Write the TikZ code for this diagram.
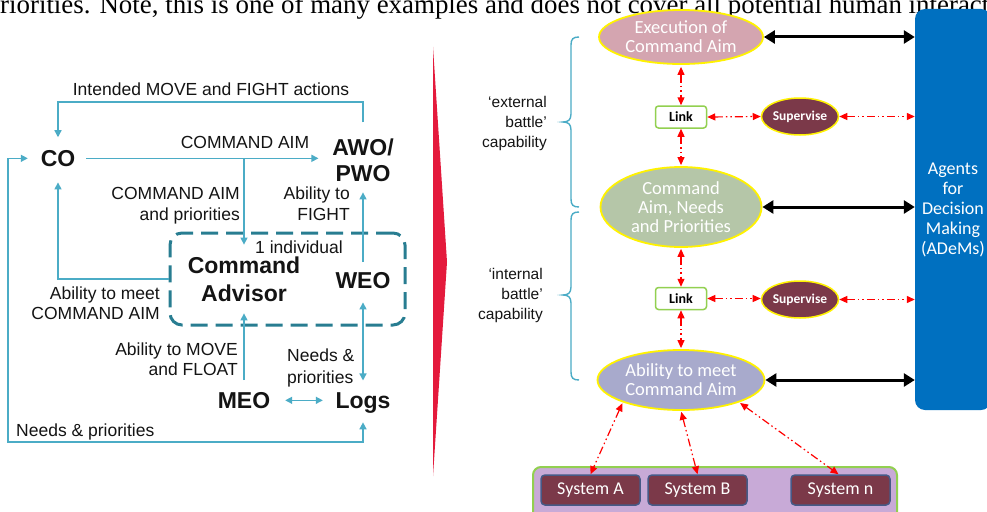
\documentclass[tikz,border=0pt]{standalone}
\usepackage{fontspec}
\setmainfont{Liberation Sans}
\newfontfamily\arialf{Liberation Sans}
\newfontfamily\calf{Carlito}
\newfontfamily\timesf{Liberation Serif}
\usetikzlibrary{arrows.meta,shapes.geometric,calc}

\definecolor{lblue}{RGB}{75,172,198}
\definecolor{dteal}{RGB}{40,125,145}
\definecolor{pinkE}{RGB}{212,165,176}
\definecolor{sageE}{RGB}{181,198,168}
\definecolor{lavE}{RGB}{168,170,204}
\definecolor{maroonS}{RGB}{123,57,73}
\definecolor{lgreen}{RGB}{146,208,80}
\definecolor{adblue}{RGB}{0,112,192}
\definecolor{sysbg}{RGB}{200,170,215}
\definecolor{sysedge}{RGB}{70,90,135}
\definecolor{crimson}{RGB}{228,26,60}
\definecolor{txt}{RGB}{20,20,20}

\begin{document}
\begin{tikzpicture}[x=1pt,y=-1pt,
  lbl/.style={font=\arialf\fontsize{17.5}{21}\selectfont, text=txt, inner sep=0pt},
  rlbl/.style={font=\arialf\fontsize{15.5}{20}\selectfont, text=txt, inner sep=0pt, align=right, anchor=north east},
  bigt/.style={font=\arialf\bfseries\fontsize{23}{26}\selectfont, text=txt, inner sep=0pt},
  arr/.style={draw=lblue, line width=1.4pt, -{Triangle[length=7pt,width=7pt]}},
  arrb/.style={draw=lblue, line width=1.4pt, {Triangle[length=7pt,width=7pt]}-{Triangle[length=7pt,width=7pt]}},
  ell/.style={ellipse, draw=yellow, line width=1.8pt, inner sep=0pt, text=white, align=center,
     font=\calf\fontsize{18.5}{19}\selectfont},
  linkb/.style={draw=lgreen, line width=1.5pt, fill=white, rounded corners=3pt, minimum width=51pt,
     minimum height=22pt, inner sep=0pt, font=\calf\bfseries\fontsize{14}{14}\selectfont},
  supe/.style={ellipse, draw=yellow, line width=1.5pt, fill=maroonS, minimum width=75pt, minimum height=37pt,
     inner sep=0pt, text=white, font=\calf\bfseries\fontsize{13.5}{14}\selectfont},
  sysb/.style={draw=sysedge, line width=1.5pt, fill=maroonS, rounded corners=4pt, minimum width=99pt,
     minimum height=30pt, inner sep=0pt, text=white, font=\calf\fontsize{18}{20}\selectfont},
  rarr/.style={draw=red, line width=1.2pt, {Triangle[length=8pt,width=7pt]}-{Triangle[length=8pt,width=7pt]},
     dash pattern=on 8pt off 3pt on 1.5pt off 3pt on 1.5pt off 3pt},
  barr/.style={draw=black, line width=3pt, {Triangle[length=11pt,width=13pt]}-{Triangle[length=11pt,width=13pt]}},
  bracel/.style={draw=lblue, line width=1.4pt}
]
\path[use as bounding box] (0,0) rectangle (987,511);
\clip (0,0) rectangle (987,511);
\fill[white] (0,0) rectangle (987,511);

% top cut-off sentence
\node[anchor=base west, inner sep=0pt, font=\timesf\fontsize{26.9}{30}\selectfont] (toptext) at (0,14)
  {riorities. Note, this is one of many examples and does not cover all potential human interacti};

% ---------------- left diagram ----------------
\node[bigt, anchor=base] (co) at (58,166.25) {CO};
\node[bigt, align=center, font=\arialf\bfseries\fontsize{23}{26}\selectfont] (awo) at (363,160) {AWO/\\PWO};
\node[draw=dteal, line width=3pt, dash pattern=on 17pt off 8pt, rounded corners=12pt,
      minimum width=235pt, minimum height=92pt, inner sep=0pt] (cabox) at (287.5,279) {};
\node[bigt, align=center, font=\arialf\bfseries\fontsize{23}{28}\selectfont] (ca) at (244,279) {Command\\Advisor};
\node[bigt, anchor=base] (weo) at (363,288.25) {WEO};
\node[bigt, anchor=base] (meo) at (244,408.25) {MEO};
\node[bigt, anchor=base] (logs) at (363,408.25) {Logs};

\node[lbl, anchor=base] (lintended) at (211,95.3) {Intended MOVE and FIGHT actions};
\node[lbl, anchor=base] (lcmdaim) at (245,148.3) {COMMAND AIM};
\node[lbl, align=right, anchor=north east] (lcmdpri) at (240,186.75) {COMMAND AIM\\and priorities};
\node[lbl, align=right, anchor=north east] (lfight) at (350,186.75) {Ability to\\FIGHT};
\node[lbl, anchor=base] (lindiv) at (299,253.25) {1 individual};
\node[lbl, align=right, anchor=north east, font=\arialf\fontsize{17.5}{20}\selectfont] (lmeet) at (160,286.75) {Ability to meet\\COMMAND AIM};
\node[lbl, align=right, anchor=north east, font=\arialf\fontsize{17.5}{20}\selectfont] (lmove) at (238,342.75) {Ability to MOVE\\and FLOAT};
\node[lbl, align=left, anchor=north west, font=\arialf\fontsize{17.5}{22}\selectfont] (lneeds) at (287,348.75) {Needs \&\\priorities};
\node[lbl, anchor=base west] (lneedsb) at (16,436.25) {Needs \& priorities};

\coordinate (topy) at (0,102);
\coordinate (outer) at (8,442);
\coordinate (j1) at (244,158);

\draw[arr, shorten <=16pt, shorten >=12.75pt] (awo.north) -- (awo.north |- topy) -| (co.north);
\draw[arr, shorten <=10.75pt, shorten >=13.7pt] (co.east) -- (co.east -| awo.west);
\draw[arr, shorten >=11.75pt] (j1) -- (j1 |- ca.north);
\draw[arr, shorten <=9.75pt, shorten >=10.75pt] (weo.north) -- (weo.north |- awo.south);
\draw[arr, shorten >=15.75pt] (cabox.west) -| (co.south);
\draw[arrb, shorten <=12.75pt, shorten >=9pt] (co.west) -| (outer) -| (logs.south);
\draw[arr, shorten <=11.75pt, shorten >=11.75pt] (meo.north) -- (ca.south);
\draw[arrb, shorten <=13.75pt, shorten >=11.75pt] (weo.south) -- (logs.north);
\draw[arrb, shorten <=14.8pt, shorten >=12.5pt] (meo.east) -- (meo.east -| logs.west);

% red chevron
\fill[crimson] (433,47) -- (447,262) -- (433,476) -- cycle;

% ---------------- right diagram ----------------
\draw[bracel] (579,37) .. controls (573,37) and (571,39) .. (571,45) -- (571,114)
  .. controls (571,120) and (568,122) .. (563,122)
  .. controls (568,122) and (571,124) .. (571,130) -- (571,199)
  .. controls (571,205) and (573,207) .. (579,207);
\draw[bracel] (579,212) .. controls (573,212) and (571,214) .. (571,220) -- (571,287)
  .. controls (571,293) and (568,295) .. (563,295)
  .. controls (568,295) and (571,297) .. (571,303) -- (571,372)
  .. controls (571,378) and (573,380) .. (579,380);

\node[rlbl] (lext) at (547,96) {‘external\\battle’\\capability};
\node[rlbl] (lint) at (543,268) {‘internal\\battle’\\capability};

\node[fill=adblue, rounded corners=10pt, minimum width=76pt, minimum height=401pt, inner sep=0pt,
      text=white, align=center, font=\calf\fontsize{18}{20}\selectfont] (adems) at (953,209.5)
      {Agents\\for\\Decision\\Making\\(ADeMs)};

\node[ell, fill=pinkE, minimum width=164pt, minimum height=54pt] (exec) at (681,37) {Execution of\\Command Aim};
\node[ell, fill=sageE, minimum width=161pt, minimum height=80pt] (cg) at (681,207) {Command\\Aim, Needs\\and Priorities};
\node[ell, fill=lavE, minimum width=167pt, minimum height=60pt] (abil) at (681,380) {Ability to meet\\Command Aim};

\node[linkb] (link1) at (681,117) {Link};
\node[linkb] (link2) at (681,298.5) {Link};
\node[supe] (sup1) at (800,116.5) {Supervise};
\node[supe] (sup2) at (800,299.5) {Supervise};

\node[draw=lgreen, line width=2pt, fill=sysbg, rounded corners=8pt, minimum width=364pt,
      minimum height=56pt, inner sep=0pt] (sysbox) at (715,495) {};
\node[sysb] (sysA) at (590.5,490) {System A};
\node[sysb] (sysB) at (697.5,490) {System B};
\node[sysb] (sysN) at (840.5,490) {System n};

\draw[rarr, shorten <=2pt] (exec.south) -- (link1.north);
\draw[rarr, shorten >=1pt] (link1.south) -- (cg.north);
\draw[rarr, shorten <=1pt] (cg.south) -- (link2.north);
\draw[rarr, shorten >=1pt] (link2.south) -- (abil.north);
\draw[rarr] (link1.east) -- (sup1.west);
\draw[rarr] (sup1.east) -- (sup1.east -| adems.west);
\draw[rarr] (link2.east) -- (link2.east -| sup2.west);
\draw[rarr] (sup2.east) -- (sup2.east -| adems.west);
\draw[rarr, shorten <=1pt] (abil.201) -- (sysA.north);
\draw[rarr, shorten <=1pt] (abil.south) -- (sysB.north);
\draw[rarr, shorten <=1pt] (abil.339) -- ([xshift=-2pt]sysN.north);

\draw[barr] (exec.east) -- (exec.east -| adems.west);
\draw[barr] (cg.east) -- (cg.east -| adems.west);
\draw[barr] (abil.east) -- (abil.east -| adems.west);
\end{tikzpicture}
\end{document}
